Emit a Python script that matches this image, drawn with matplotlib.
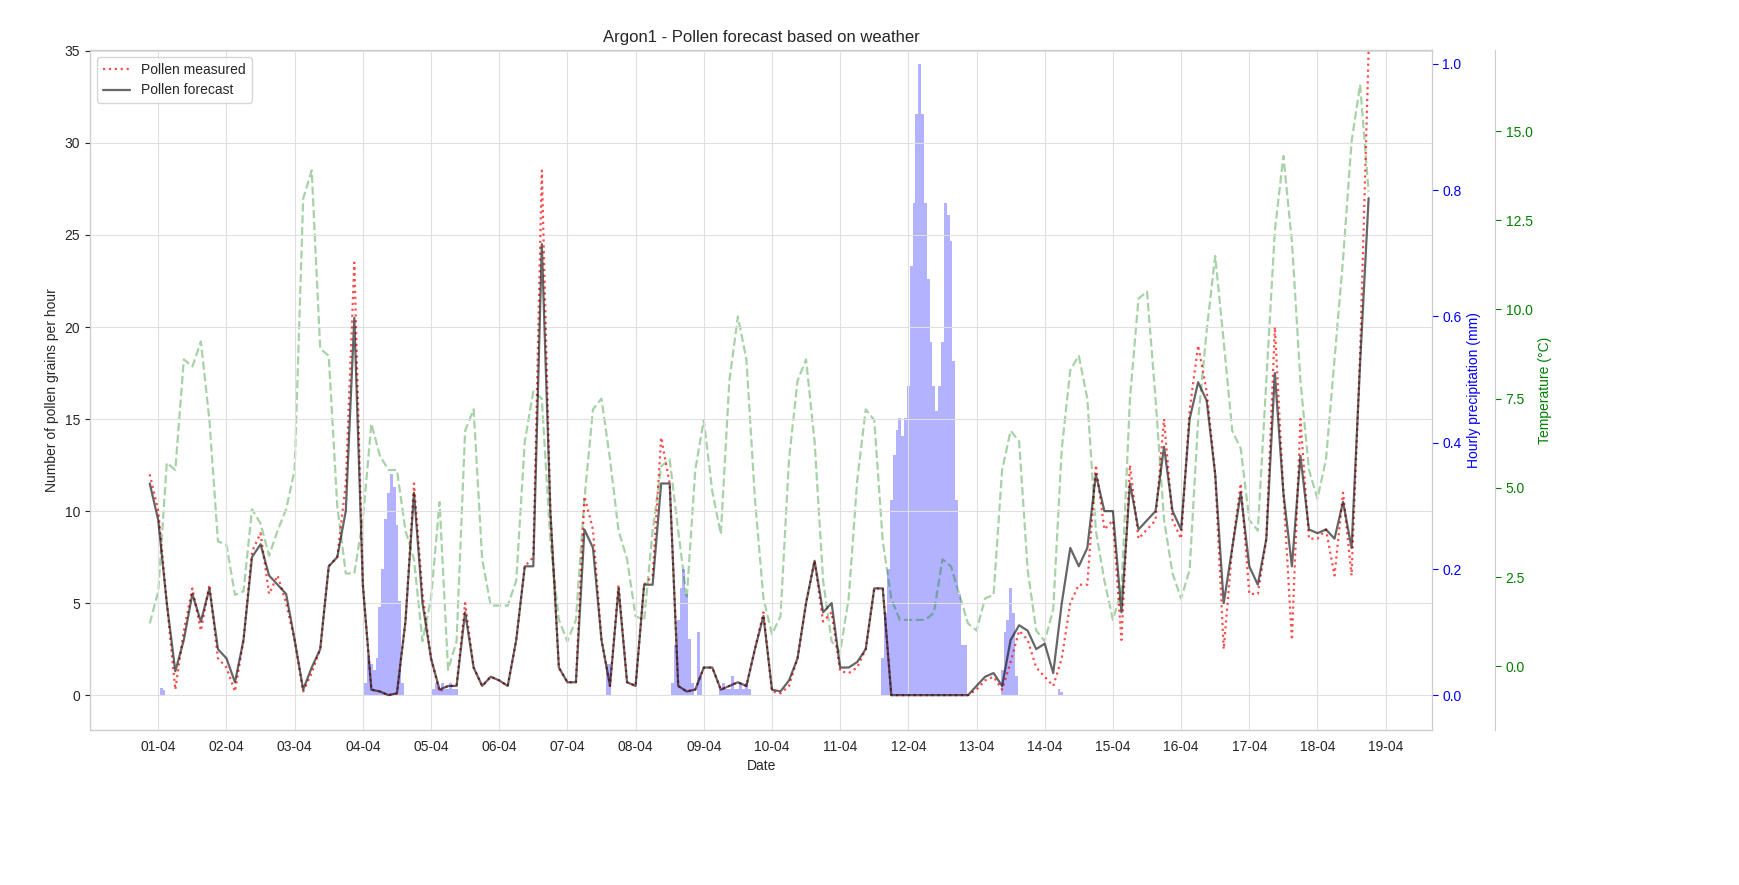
import matplotlib
matplotlib.use("Agg")
import matplotlib.pyplot as plt
import matplotlib.dates as mdates
import numpy as np
import pandas as pd
import seaborn as sns

sns.set_style("whitegrid")
plt.rcParams['font.family'] = ['Liberation Sans', 'DejaVu Sans']
plt.rcParams['grid.color'] = '#e0e0e0'

# 3-hourly series from 31-03 21:00 to 18-04 18:00
start = "2024-03-31 21:00"
forecast = [11.5,
 9.5,5,1.3,3,5.5,4,5.8,2.5,
 2,0.7,3,7.5,8.2,6.5,6,5.5,
 3,0.3,1.5,2.5,7,7.5,10,20.5,
 6,0.3,0.2,0,0.1,4,11,5,
 2,0.3,0.5,0.5,4.5,1.5,0.5,1,
 0.8,0.5,3,7,7,24.5,10,1.5,
 0.7,0.7,9,8,3,0.5,5.8,0.7,
 0.5,6,6,11.5,11.5,0.5,0.2,0.3,
 1.5,1.5,0.3,0.5,0.7,0.5,2.5,4.3,
 0.3,0.2,0.8,2,5,7.3,4.5,5,
 1.5,1.5,1.8,2.5,5.8,5.8,0,0,
 0,0,0,0,0,0,0,0,
 0.5,1,1.2,0.5,3,3.8,3.5,2.5,
 2.8,1.2,5,8,7,8,12,10,
 10,4.5,11.5,9,9.5,10,13.5,10,
 9,15,17,16,12,5,8,11,
 7,6,8.5,17.5,11,7,13,9,
 8.8,9,8.5,10.5,8,18,27]
measured = [12,
 10,5,0.3,3.5,5.8,3.5,6,2,
 1.5,0.2,3,7.8,8.8,5.5,6.5,5,
 3,0.2,1.2,2.5,7,7.5,11.5,23.5,
 6,0.3,0.2,0,0.1,4,11.5,5.5,
 2,0.2,0.5,0.5,5,1.5,0.5,1,
 0.8,0.5,3,7,7.5,28.5,10,1.5,
 0.7,0.7,10.8,9,3,0.5,6,0.7,
 0.5,6,6.5,14,11.5,0.5,0.2,0.3,
 1.5,1.5,0.3,0.5,0.7,0.5,2.5,4.5,
 0.2,0.1,0.5,2,5,7.3,4,4.5,
 1.3,1.2,1.5,2.5,5.8,5.8,0,0,
 0,0,0,0,0,0,0,0,
 0.3,0.8,1,0.3,1.8,3.5,3,1.5,
 1,0.5,2,5,6,6,12.5,9,
 9.5,3,12.5,8.5,9,9.5,15,9.5,
 8.5,15.5,19,16.5,12,2.5,8,11.5,
 5.5,5.5,8.5,20,11,3,15,8.5,
 8.5,9,6.5,11,6.5,18.5,35]
temperature = [1.2,
 2.1,5.7,5.5,8.6,8.4,9.1,6.9,3.5,
 3.4,2.0,2.1,4.4,4.0,3.1,3.8,4.4,
 5.5,13.1,13.9,8.9,8.7,4.5,2.6,2.6,
 4.1,6.8,5.9,5.5,5.5,3.8,3.0,0.7,
 1.9,4.6,-0.1,0.7,6.6,7.2,3.0,1.7,
 1.7,1.7,2.4,6.3,7.7,7.5,3.5,1.3,
 0.7,1.3,4.7,7.2,7.5,5.8,3.8,3.0,
 1.4,1.3,3.8,5.6,5.8,3.8,1.9,5.5,
 6.9,4.9,3.7,8.0,9.8,8.6,4.7,1.9,
 0.9,1.4,5.8,8.0,8.6,6.3,2.4,0.7,
 0.4,1.9,5.2,7.2,6.9,3.5,1.9,1.3,
 1.3,1.3,1.3,1.5,3.0,2.8,2.0,1.2,
 1.0,1.9,2.0,5.5,6.6,6.3,2.7,1.0,
 0.7,1.6,6.1,8.3,8.7,7.5,3.8,2.4,
 1.3,2.1,7.5,10.3,10.5,7.5,4.1,2.6,
 1.9,2.7,6.9,9.4,11.5,9.1,6.6,6.1,
 4.1,3.8,8.0,12.2,14.3,11.9,8.0,5.5,
 4.7,5.8,8.6,11.4,14.7,16.3,13.3]

# hourly precipitation spells: (start time, values)
rain_spells = [
 ("2024-04-01 01:00", [0.012,0.008]),
 ("2024-04-04 01:00", [0.02,0.06,0.05,0.04,0.06,0.14,0.2,0.28,0.32,0.35,0.33,0.27,0.15,0.02]),
 ("2024-04-05 01:00", [0.01,0.02,0.01,0.02,0.01,0.01,0.02,0.01,0.01]),
 ("2024-04-07 14:00", [0.05,0.05]),
 ("2024-04-08 13:00", [0.02,0.08,0.12,0.17,0.2,0.16,0.09,0.02,0.0,0.1,0.03]),
 ("2024-04-09 06:00", [0.01,0.02,0.01,0.01,0.03,0.01,0.01,0.02,0.01,0.02,0.01]),
 ("2024-04-11 15:00", [0.06,0.13,0.2,0.31,0.38,0.42,0.44,0.41,0.44,0.49,0.68,0.78,0.92,1.0,0.92,
                       0.78,0.66,0.56,0.49,0.45,0.49,0.56,0.78,0.76,0.72,0.53,0.31,0.16,0.08,0.08]),
 ("2024-04-13 09:00", [0.04,0.1,0.12,0.17,0.13,0.03]),
 ("2024-04-14 05:00", [0.01,0.005]),
]

t3 = pd.date_range(start, periods=len(forecast), freq="3h")

fig = plt.figure(figsize=(17.39, 8.85), dpi=100)
ax = fig.add_axes([0.0518, 0.175, 0.7717, 0.7685])
ax2 = ax.twinx()
ax3 = ax.twinx()
ax3.spines['right'].set_position(('axes', 1.047))

for s, vals in rain_spells:
    tt = pd.date_range(s, periods=len(vals), freq="1h")
    ax2.bar(tt, vals, width=1/24, color='blue', alpha=0.3, linewidth=0)

ax3.plot(t3, temperature, color='green', linestyle='--', alpha=0.35, linewidth=1.6)
l1, = ax.plot(t3, measured, color='red', linestyle=':', alpha=0.7, linewidth=1.6, label='Pollen measured')
l2, = ax.plot(t3, forecast, color='black', alpha=0.6, linewidth=1.6, label='Pollen forecast')
ax.set_zorder(3); ax.patch.set_visible(False)

ax.set_xlim(pd.Timestamp("2024-03-31 00:00"), pd.Timestamp("2024-04-19 16:20"))
ax.set_ylim(-1.9, 35.05)
ax2.set_ylim(-0.055, 1.022)
ax3.set_ylim(-1.79, 17.27)

ax.xaxis.set_major_formatter(mdates.DateFormatter('%d-%m'))
ax.set_xticks(pd.date_range("2024-04-01", "2024-04-19", freq="D"))
ax.set_yticks([0, 5, 10, 15, 20, 25, 30, 35])
ax2.set_yticks([0, 0.2, 0.4, 0.6, 0.8, 1.0])
ax3.set_yticks([0, 2.5, 5, 7.5, 10, 12.5, 15])
ax3.yaxis.set_major_formatter(matplotlib.ticker.FormatStrFormatter('%.1f'))
ax2.grid(False); ax3.grid(False)
ax2.tick_params(axis='y', colors='blue', labelsize=10, length=4)
ax3.tick_params(axis='y', colors='green', labelsize=10, length=4)
ax.tick_params(labelsize=10)

ax.set_title("Argon1 - Pollen forecast based on weather", fontsize=12)
ax.set_xlabel("Date", fontsize=10)
ax.set_ylabel("Number of pollen grains per hour", fontsize=10)
ax2.set_ylabel("Hourly precipitation (mm)", color='blue', fontsize=10)
ax3.set_ylabel("Temperature (°C)", color='green', fontsize=10)
ax.legend(handles=[l1, l2], loc='upper left', fontsize=10, frameon=True)

fig.savefig("out.png", dpi=100)
